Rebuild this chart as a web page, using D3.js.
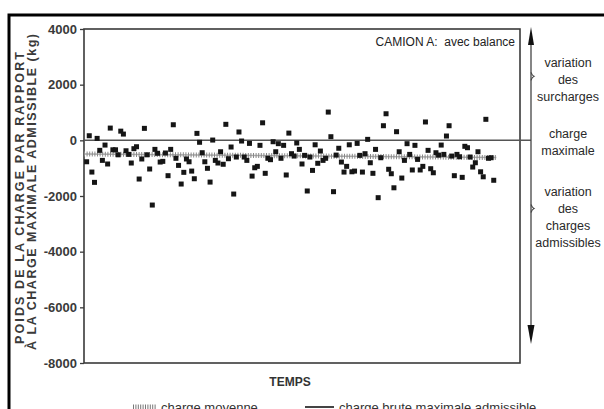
<!DOCTYPE html>
<html>
<head>
<meta charset="utf-8">
<script src="https://cdn.jsdelivr.net/npm/d3@7"></script>
<style>
  body { margin: 0; background: #fff; }
  svg { display: block; font-family: "Liberation Sans", Arial, sans-serif; }
</style>
</head>
<body>
<script>
// surcharge (kg) per weighing, in time order
var surcharges = [
  -770, 165, -1140, -1510, 70, -360, -720, -170, -850, 440,
  -340, -340, -520, 330, 225, -375, -505, -815, -300, -230,
  -1390, -670, 430, -520, -1030, -2325, -325, -465, -780, -755,
  -455, -1270, -325, 560, -645, -900, -1570, -1150, -670, -770,
  -1105, -1380, 250,
  -70, -445, -770, -1005, -1500, 10, -720, -815, -410, -860,
  575, -660, -240, -1930, -600, 300, -25, -600, -720, -110,
  -1285, -985, -935, -180, 630, -1185, -645, -695, -50, -410,
  -120, -645, -180, -1245, 260, -480, -565, -95, -325, -850,
  -540, -1820, -600, -1080, -160, -825, -385, -720, -645, 1015,
  130, -1845, -530, -285, -780, -1140, -935, -160, -1130, -1105,
  -110, -540, -1140, -480, 35, -805, -1185, -325, -2060, -625,
  525, 955, -1040, -1200, -1705, 310, -410, -1355, -720,
  -120, -505, -1065, -180, -685, -1065, -935, 660, -360, -1020,
  -1165, -445, -530, -170, -505, 155, 525, -565, -1270, -505,
  -590, -1330, -215, -265, -600, -960, -805, -410, -1130, -1310,
  755, -645, -625, -1435
];

// charge moyenne (start / end of the hatched line)
var meanTimes = [-1, 156];
var meanValues = [-490, -620];

var maxCharge = 0;
var yTicks = [-8000, -6000, -4000, -2000, 0, 2000, 4000];

var title = "CAMION A:  avec balance";
var yLabel1 = "POIDS DE LA CHARGE PAR RAPPORT";
var yLabel2 = "À LA CHARGE MAXIMALE ADMISSIBLE (kg)";
var xLabel = "TEMPS";
var sideLabels = [
  { value: 2300, lines: ["variation", "des", "surcharges"] },
  { value: 0, lines: ["charge", "maximale"] },
  { value: -2300, lines: ["variation", "des", "charges", "admissibles"] }
];
var legendLabels = ["charge moyenne", "charge brute maximale admissible"];

buildIt();

function buildIt () {
  var w = 604, h = 409;
  var left = 84, right = 520, top = 29, bottom = 363;
  var arrowX = 531;

  var svg = d3.select("body").append("svg")
    .attr("width", w)
    .attr("height", h);

  // frame of the scanned figure
  svg.append("path")
    .attr("d", "M9," + (h + 5) + " L9,15 L" + (w + 5) + ",15")
    .attr("fill", "none")
    .attr("stroke", "#000")
    .attr("stroke-width", 3);

  var xScale = d3.scaleLinear()
    .domain([-1, 165])
    .range([left, right]);

  var yScale = d3.scaleLinear()
    .domain([-8000, 4000])
    .range([bottom, top]);

  /* ===== PLOT BOX + AXIS =====*/

  svg.append("rect")
    .attr("x", left).attr("y", top)
    .attr("width", right - left).attr("height", bottom - top)
    .attr("fill", "none")
    .attr("stroke", "#3a3a3a")
    .attr("stroke-width", 1.6);

  var yAxis = d3.axisLeft(yScale)
    .tickValues(yTicks)
    .tickSize(4)
    .tickPadding(3)
    .tickFormat(function (d) { return d; });

  var ax = svg.append("g")
    .attr("transform", "translate(" + left + ",0)")
    .call(yAxis);
  ax.select(".domain").remove();
  ax.selectAll("line").attr("stroke", "#3a3a3a").attr("stroke-width", 1.3);
  ax.selectAll("text")
    .attr("font-family", "'Liberation Sans', Arial, sans-serif")
    .attr("font-size", "13px")
    .attr("font-weight", "bold")
    .attr("fill", "#3a3a3a");

  /* ===== MAX CHARGE LINE =====*/

  svg.append("line")
    .attr("x1", left).attr("x2", arrowX)
    .attr("y1", yScale(maxCharge)).attr("y2", yScale(maxCharge))
    .attr("stroke", "#555")
    .attr("stroke-width", 1.5);

  /* ===== MEAN LINE (hatched) =====*/

  var meanData = meanTimes.map(function (t, i) { return [t, meanValues[i]]; });
  var meanLine = d3.line()
    .x(function (d) { return xScale(d[0]); })
    .y(function (d) { return yScale(d[1]); });

  svg.append("path")
    .attr("d", meanLine(meanData))
    .attr("fill", "none")
    .attr("stroke", "#aaa")
    .attr("stroke-width", 1.5);
  svg.append("path")
    .attr("d", meanLine(meanData))
    .attr("fill", "none")
    .attr("stroke", "#888")
    .attr("stroke-width", 5)
    .attr("stroke-dasharray", "1,1.6");

  /* ===== POINTS =====*/

  var sz = 5;
  svg.append("g").selectAll("rect")
    .data(surcharges)
    .enter()
    .append("rect")
    .attr("x", function (d, i) { return xScale(i) - sz / 2; })
    .attr("y", function (d) { return yScale(d) - sz / 2; })
    .attr("width", sz)
    .attr("height", sz)
    .attr("fill", "#151515");

  /* ===== TITLE + AXIS LABELS =====*/

  svg.append("text")
    .text(title)
    .attr("x", right - 5)
    .attr("y", 46)
    .attr("text-anchor", "end")
    .attr("font-size", "12px")
    .style("white-space", "pre")
    .attr("fill", "#222");

  svg.append("text")
    .text(xLabel)
    .attr("x", 290)
    .attr("y", 386)
    .attr("text-anchor", "middle")
    .attr("font-size", "12px")
    .attr("font-weight", "bold")
    .attr("fill", "#333");

  svg.append("text")
    .text(yLabel1)
    .attr("transform", "translate(24,198) rotate(-90)")
    .attr("text-anchor", "middle")
    .attr("font-size", "12.5px")
    .attr("font-weight", "bold")
    .attr("fill", "#3a3a3a")
    .attr("textLength", 292)
    .attr("lengthAdjust", "spacing");

  svg.append("text")
    .text(yLabel2)
    .attr("transform", "translate(36,192) rotate(-90)")
    .attr("text-anchor", "middle")
    .attr("font-size", "12.5px")
    .attr("font-weight", "bold")
    .attr("fill", "#3a3a3a")
    .attr("textLength", 316)
    .attr("lengthAdjust", "spacing");

  /* ===== RIGHT ARROW + ANNOTATIONS =====*/

  svg.append("line")
    .attr("x1", arrowX).attr("x2", arrowX)
    .attr("y1", 34).attr("y2", 338)
    .attr("stroke", "#444")
    .attr("stroke-width", 1.3);
  svg.append("path")
    .attr("d", "M" + arrowX + ",27 L" + (arrowX - 3) + ",45 L" + (arrowX + 3) + ",45 Z")
    .attr("fill", "#111");
  svg.append("path")
    .attr("d", "M" + arrowX + ",344 L" + (arrowX - 3.5) + ",325 L" + (arrowX + 3.5) + ",325 Z")
    .attr("fill", "#111");

  // brace notches
  [yScale(2300), yScale(-2450)].forEach(function (yy) {
    svg.append("path")
      .attr("d", "M" + arrowX + "," + (yy - 4) + " Q" + (arrowX + 1) + "," + (yy - 1) + " " + (arrowX + 3) + "," + yy +
                 " Q" + (arrowX + 1) + "," + (yy + 1) + " " + arrowX + "," + (yy + 4))
      .attr("fill", "none")
      .attr("stroke", "#444")
      .attr("stroke-width", 1.2);
  });

  var lineH = 17;
  sideLabels.forEach(function (s) {
    var n = s.lines.length;
    var yMid = s.value === 0 ? yScale(0) + 2 : (s.value > 0 ? 80 : 217);
    var y0 = yMid - (n - 1) * lineH / 2 + 4;
    s.lines.forEach(function (ln, i) {
      svg.append("text")
        .text(ln)
        .attr("x", 568)
        .attr("y", y0 + i * lineH)
        .attr("text-anchor", "middle")
        .attr("font-size", "12.5px")
        .attr("fill", "#2a2a2a");
    });
  });

  /* ===== LEGEND =====*/

  var ly = 412;
  svg.append("line")
    .attr("x1", 133).attr("x2", 157)
    .attr("y1", ly - 5).attr("y2", ly - 5)
    .attr("stroke", "#777")
    .attr("stroke-width", 5)
    .attr("stroke-dasharray", "1,1.4");
  svg.append("text")
    .text(legendLabels[0])
    .attr("x", 161).attr("y", ly)
    .attr("font-size", "13px")
    .attr("fill", "#333");

  svg.append("line")
    .attr("x1", 305).attr("x2", 334)
    .attr("y1", ly - 5).attr("y2", ly - 5)
    .attr("stroke", "#444")
    .attr("stroke-width", 2);
  svg.append("text")
    .text(legendLabels[1])
    .attr("x", 339).attr("y", ly)
    .attr("font-size", "13px")
    .attr("fill", "#333");
}
</script>
</body>
</html>
